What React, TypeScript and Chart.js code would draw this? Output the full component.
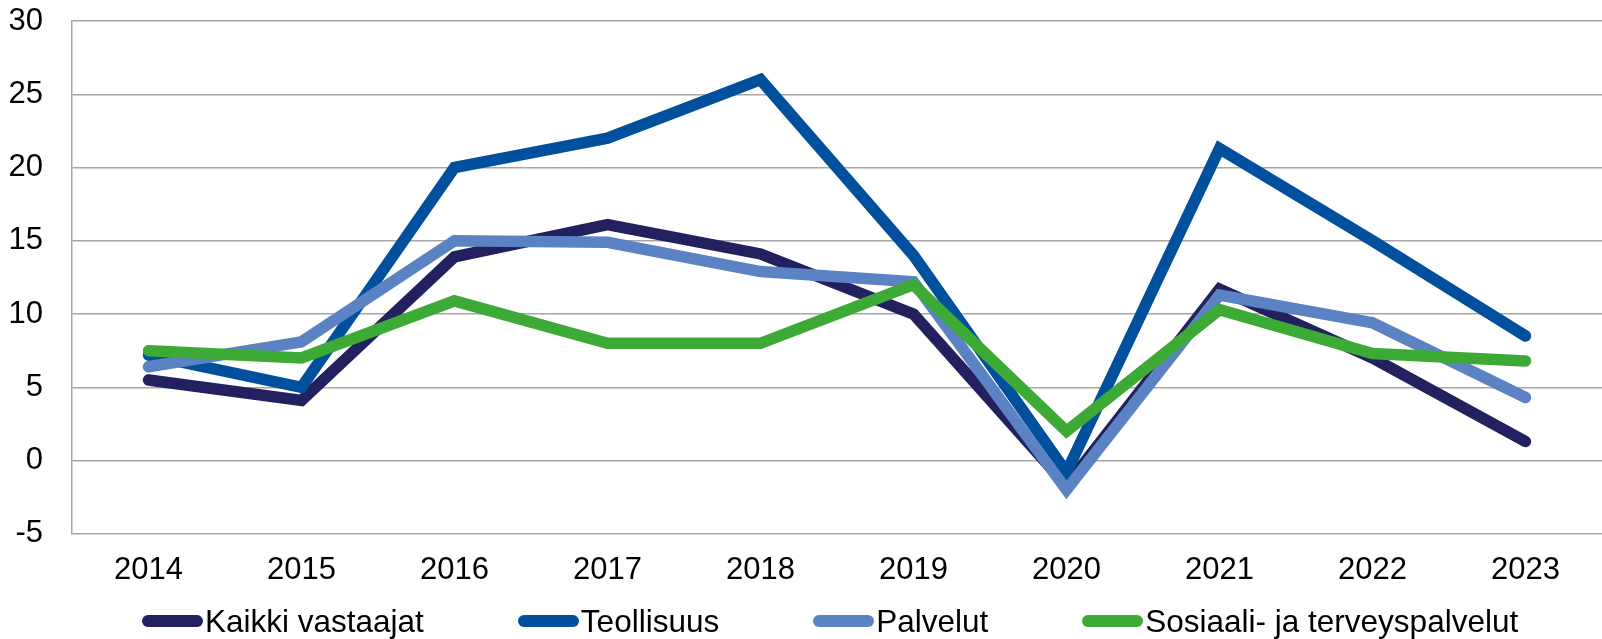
import React, { useEffect, useRef } from "react";
import { Chart, registerables } from "chart.js";

Chart.register(...registerables);

const years = ["2014", "2015", "2016", "2017", "2018", "2019", "2020", "2021", "2022", "2023"];
const kaikki = [5.5, 4.1, 13.9, 16.1, 14.1, 10.0, -1.7, 11.7, 7.0, 1.3];
const teollisuus = [7.2, 5.0, 20.0, 22.0, 26.0, 14.0, -0.8, 21.3, 15.0, 8.5];
const palvelut = [6.4, 8.1, 15.0, 14.9, 12.9, 12.2, -2.0, 11.3, 9.4, 4.3];
const sosiaali = [7.5, 7.0, 10.9, 8.0, 8.0, 12.0, 2.0, 10.3, 7.3, 6.8];
const seriesNames = ["Kaikki vastaajat", "Teollisuus", "Palvelut", "Sosiaali- ja terveyspalvelut"];
const seriesColors = ["#22205E", "#00509E", "#5B83C3", "#3DAA35"];

const FONT = "'Liberation Sans', Arial, sans-serif";

export default function App() {
  const ref = useRef<HTMLCanvasElement | null>(null);
  useEffect(() => {
    if (!ref.current) return;
    const values = [kaikki, teollisuus, palvelut, sosiaali];
    const chart = new Chart(ref.current, {
      type: "line",
      data: {
        labels: years,
        datasets: values.map((v, i) => ({
          label: seriesNames[i],
          data: v,
          borderColor: seriesColors[i],
          backgroundColor: seriesColors[i],
          borderWidth: 11.5,
          borderCapStyle: "round" as const,
          borderJoinStyle: "miter" as const,
          pointRadius: 0,
          tension: 0,
          fill: false,
          order: 3 - i,
        })),
      },
      options: {
        animation: false,
        responsive: false,
        maintainAspectRatio: false,
        layout: { padding: { top: 21, right: 0, left: 0, bottom: 32 } },
        plugins: {
          tooltip: { enabled: false },
          legend: { display: false },
        },
        scales: {
          x: {
            offset: true,
            grid: { display: false, drawTicks: false },
            border: { display: false },
            ticks: { font: { family: FONT, size: 31 }, color: "#000", padding: 18 },
          },
          y: {
            min: -5,
            max: 30,
            afterFit: (s: any) => {
              s.width = 72;
            },
            grid: { color: "#A6A6A6", lineWidth: 1.5, drawTicks: true, tickLength: 29, tickColor: "rgba(0,0,0,0)" },
            border: { display: true, color: "#A6A6A6", width: 1.5 },
            ticks: { stepSize: 5, font: { family: FONT, size: 31 }, color: "#000", padding: 0 },
          },
        },
      },
    });
    return () => chart.destroy();
  }, []);
  return (
    <div style={{ position: "absolute", left: 0, top: 0, width: 1602, height: 639, background: "#fff" }}>
      <canvas ref={ref} width={1602} height={639} style={{ display: "block" }} />
      <div
        style={{
          position: "absolute",
          left: 142,
          top: 603,
          height: 36,
          display: "flex",
          alignItems: "center",
          gap: 94,
          fontFamily: FONT,
          fontSize: 31.5,
          lineHeight: "36px",
          color: "#000",
          whiteSpace: "nowrap",
        }}
      >
        {seriesNames.map((name, i) => (
          <div key={name} style={{ display: "flex", alignItems: "center", gap: 2 }}>
            <span
              style={{
                display: "inline-block",
                width: 61,
                height: 12,
                borderRadius: 6,
                background: seriesColors[i],
              }}
            />
            <span>{name}</span>
          </div>
        ))}
      </div>
    </div>
  );
}
